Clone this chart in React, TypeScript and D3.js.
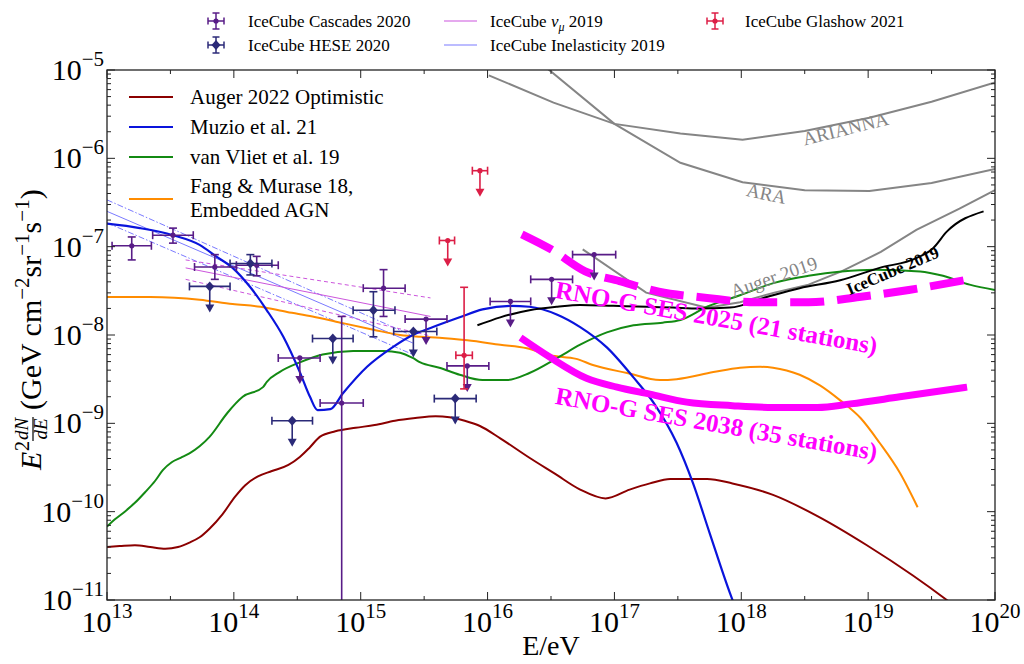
import React from 'react';
import * as d3 from 'd3';

type P = [number, number]; // [log10(E/eV), log10(E^2 dN/dE)]

const xTickExps = [13, 14, 15, 16, 17, 18, 19, 20];
const yTickExps = [-11, -10, -9, -8, -7, -6, -5];

const augerOptimistic: P[] = [[13.00,-10.40],[13.10,-10.39],[13.22,-10.38],[13.34,-10.40],[13.46,-10.42],[13.56,-10.40],[13.65,-10.35],[13.73,-10.29],[13.81,-10.19],[13.91,-10.03],[14.01,-9.83],[14.09,-9.70],[14.19,-9.60],[14.30,-9.54],[14.43,-9.47],[14.52,-9.38],[14.60,-9.27],[14.68,-9.15],[14.80,-9.09],[14.96,-9.05],[15.11,-9.02],[15.27,-8.97],[15.43,-8.94],[15.59,-8.92],[15.70,-8.93],[15.82,-8.97],[15.94,-9.03],[16.10,-9.17],[16.33,-9.39],[16.53,-9.57],[16.73,-9.75],[16.93,-9.85],[17.12,-9.75],[17.28,-9.68],[17.44,-9.63],[17.73,-9.63],[17.93,-9.68],[18.25,-9.81],[18.60,-10.05],[18.99,-10.38],[19.35,-10.72],[19.62,-11.00],[19.72,-11.11]];

const muzio21: P[] = [[13.00,-6.74],[13.26,-6.79],[13.52,-6.87],[13.73,-6.98],[13.86,-7.11],[13.99,-7.24],[14.13,-7.46],[14.26,-7.72],[14.39,-8.02],[14.52,-8.42],[14.60,-8.70],[14.66,-8.85],[14.76,-8.84],[14.86,-8.66],[15.05,-8.36],[15.25,-8.14],[15.41,-8.00],[15.57,-7.91],[15.78,-7.80],[15.96,-7.71],[16.18,-7.67],[16.33,-7.68],[16.55,-7.77],[16.73,-7.91],[16.94,-8.14],[17.15,-8.48],[17.32,-8.79],[17.49,-9.22],[17.62,-9.68],[17.75,-10.24],[17.91,-10.92],[17.96,-11.11]];

const vanVliet19: P[] = [[13.00,-10.17],[13.06,-10.09],[13.14,-10.00],[13.22,-9.90],[13.30,-9.78],[13.38,-9.65],[13.44,-9.53],[13.51,-9.44],[13.58,-9.39],[13.65,-9.34],[13.73,-9.26],[13.81,-9.15],[13.95,-8.88],[14.07,-8.70],[14.23,-8.59],[14.26,-8.53],[14.36,-8.42],[14.52,-8.31],[14.70,-8.22],[14.94,-8.18],[15.18,-8.18],[15.31,-8.20],[15.41,-8.26],[15.47,-8.31],[15.62,-8.37],[15.78,-8.45],[15.96,-8.51],[16.15,-8.51],[16.33,-8.43],[16.55,-8.26],[16.73,-8.11],[16.94,-7.97],[17.15,-7.89],[17.38,-7.86],[17.52,-7.83],[17.73,-7.68],[17.99,-7.55],[18.26,-7.41],[18.53,-7.33],[18.79,-7.28],[19.06,-7.26],[19.41,-7.28],[19.59,-7.33],[19.80,-7.43],[20.00,-7.49]];

const fangMurase18: P[] = [[13.00,-7.57],[13.34,-7.57],[13.73,-7.60],[13.99,-7.65],[14.21,-7.68],[14.42,-7.74],[14.62,-7.79],[14.84,-7.86],[15.10,-7.94],[15.31,-8.00],[15.47,-8.02],[15.62,-8.03],[15.84,-8.06],[16.10,-8.11],[16.31,-8.15],[16.49,-8.23],[16.70,-8.27],[16.83,-8.34],[17.10,-8.43],[17.36,-8.51],[17.49,-8.50],[17.78,-8.42],[17.99,-8.37],[18.15,-8.36],[18.25,-8.37],[18.46,-8.45],[18.62,-8.57],[18.78,-8.74],[18.94,-8.94],[19.09,-9.22],[19.25,-9.56],[19.39,-9.95]];

const iceCube2019: P[] = [[15.92,-7.89],[16.10,-7.80],[16.33,-7.72],[16.55,-7.68],[16.73,-7.66],[16.99,-7.67],[17.26,-7.68],[17.46,-7.69],[17.67,-7.70],[17.91,-7.69],[18.20,-7.57],[18.46,-7.47],[18.78,-7.38],[19.09,-7.24],[19.38,-7.13],[19.51,-7.02],[19.62,-6.83],[19.91,-6.60]];

const arianna: P[] = [[16.01,-5.06],[16.52,-5.37],[17.00,-5.61],[17.52,-5.72],[18.01,-5.79],[18.50,-5.69],[19.01,-5.54],[19.50,-5.36],[20.00,-5.14]];
const ara: P[] = [[16.41,-4.91],[17.00,-5.61],[17.52,-6.05],[18.01,-6.27],[18.50,-6.36],[19.01,-6.37],[19.50,-6.28],[20.00,-6.12]];
const auger2019: P[] = [[16.75,-7.03],[17.25,-7.52],[17.73,-7.69],[17.99,-7.63],[18.26,-7.52],[18.53,-7.43],[18.79,-7.28],[19.10,-7.06],[19.38,-6.81],[19.72,-6.57],[20.00,-6.36]];

const rnog2025: P[] = [[16.27,-6.86],[16.50,-7.03],[16.77,-7.28],[17.04,-7.39],[17.35,-7.51],[17.73,-7.58],[18.12,-7.63],[18.53,-7.63],[18.93,-7.57],[19.32,-7.49],[19.76,-7.38]];
const rnog2038: P[] = [[16.26,-8.03],[16.49,-8.25],[16.78,-8.49],[17.02,-8.59],[17.28,-8.67],[17.57,-8.76],[17.93,-8.80],[18.25,-8.82],[18.60,-8.82],[18.86,-8.78],[19.25,-8.70],[19.78,-8.59]];

const numuBest: P[] = [[13.62,-7.24],[15.55,-7.79]];
const numuUpper: P[] = [[13.62,-7.15],[15.55,-7.58]];
const numuLower: P[] = [[13.62,-7.37],[15.55,-8.01]];
const inelBest: P[] = [[13.00,-6.60],[15.41,-8.09]];
const inelUpper: P[] = [[13.00,-6.47],[15.41,-8.01]];
const inelLower: P[] = [[13.00,-6.73],[15.41,-8.22]];

// [logE, logElo, logEhi, logF, logFlo, logFhi] ; UL when no flux errors
type Pt = number[];
const cascades2020: Pt[] = [
  [13.195, 13.04, 13.35, -6.99, -7.15, -6.89],
  [13.52, 13.36, 13.68, -6.87, -6.96, -6.79],
  [13.85, 13.69, 14.02, -7.23, -7.37, -7.09],
  [14.18, 14.02, 14.35, -7.21, -7.33, -7.11],
  [14.52, 14.35, 14.68, -8.26],
  [14.85, 14.68, 15.02, -8.77, -12, -7.79],
  [15.18, 15.02, 15.35, -7.47, -7.79, -7.26],
  [15.515, 15.35, 15.68, -7.82],
  [15.84, 15.68, 16.01, -8.35],
  [16.18, 16.02, 16.34, -7.62],
  [16.505, 16.34, 16.67, -7.37],
  [16.84, 16.67, 17.01, -7.09],
];
const hese2020: Pt[] = [
  [13.81, 13.65, 13.97, -7.45],
  [14.13, 13.97, 14.30, -7.19, -7.32, -7.09],
  [14.46, 14.30, 14.62, -8.97],
  [14.78, 14.62, 14.94, -8.04],
  [15.10, 14.94, 15.27, -7.72, -8.02, -7.51],
  [15.415, 15.26, 15.60, -7.96],
  [15.745, 15.58, 15.91, -8.72],
];
const glashow2021: Pt[] = [
  [15.686, 15.62, 15.74, -6.93],
  [15.94, 15.88, 16.00, -6.14],
  [15.815, 15.75, 15.88, -8.23, -8.61, -7.46],
];

const FONT = "'Liberation Serif','Times New Roman',serif";
const L = 107, R = 995, T = 70, B = 600;
const C_CASC = '#581c87';
const C_HESE = '#2b2a78';
const C_GLA = '#dc1e46';
const C_NUMU = '#cc55dd';
const C_INEL = '#7a7aff';
const GRAY = '#858585';
const MAG = '#ff00ff';

const x = d3.scaleLog().domain([1e13, 1e20]).range([L, R]);
const y = d3.scaleLog().domain([1e-11, 1e-5]).range([B, T]);
const px = (d: P) => x(Math.pow(10, d[0]));
const py = (d: P) => y(Math.pow(10, d[1]));
const smooth = d3.line<P>().x(px).y(py).curve(d3.curveMonotoneX);
const straight = d3.line<P>().x(px).y(py);

function ErrPoint({ d, color, marker }: { d: Pt; color: string; marker: 'dot' | 'diamond' }) {
  const cx = x(Math.pow(10, d[0]));
  const cy = y(Math.pow(10, d[3]));
  const x0 = x(Math.pow(10, d[1]));
  const x1 = x(Math.pow(10, d[2]));
  const ul = d.length < 6;
  const cap = 4;
  const arrow = 26;
  return (
    <g stroke={color} fill={color} strokeWidth={1.6}>
      <line x1={x0} x2={x1} y1={cy} y2={cy} />
      <line x1={x0} x2={x0} y1={cy - cap} y2={cy + cap} />
      <line x1={x1} x2={x1} y1={cy - cap} y2={cy + cap} />
      {ul ? (
        <g>
          <line x1={cx} x2={cx} y1={cy} y2={cy + arrow - 4} />
          <path d={`M${cx - 4.5},${cy + arrow - 8}L${cx + 4.5},${cy + arrow - 8}L${cx},${cy + arrow}Z`} stroke="none" />
        </g>
      ) : (
        <g>
          <line x1={cx} x2={cx} y1={y(Math.pow(10, d[5]))} y2={y(Math.pow(10, d[4]))} />
          <line x1={cx - cap} x2={cx + cap} y1={y(Math.pow(10, d[5]))} y2={y(Math.pow(10, d[5]))} />
          <line x1={cx - cap} x2={cx + cap} y1={y(Math.pow(10, d[4]))} y2={y(Math.pow(10, d[4]))} />
        </g>
      )}
      {marker === 'dot' ? (
        <circle cx={cx} cy={cy} r={2.6} stroke="none" />
      ) : (
        <path d={`M${cx},${cy - 5}L${cx + 4.5},${cy}L${cx},${cy + 5}L${cx - 4.5},${cy}Z`} stroke="none" />
      )}
    </g>
  );
}

function LegendErr({ cx, cy, color, marker }: { cx: number; cy: number; color: string; marker: 'dot' | 'diamond' }) {
  return (
    <g stroke={color} fill={color} strokeWidth={1.5}>
      <line x1={cx - 8} x2={cx + 8} y1={cy} y2={cy} />
      <line x1={cx - 8} x2={cx - 8} y1={cy - 3.5} y2={cy + 3.5} />
      <line x1={cx + 8} x2={cx + 8} y1={cy - 3.5} y2={cy + 3.5} />
      <line x1={cx} x2={cx} y1={cy - 8} y2={cy + 8} />
      <line x1={cx - 3.5} x2={cx + 3.5} y1={cy - 8} y2={cy - 8} />
      <line x1={cx - 3.5} x2={cx + 3.5} y1={cy + 8} y2={cy + 8} />
      {marker === 'dot' ? (
        <circle cx={cx} cy={cy} r={2.6} stroke="none" />
      ) : (
        <path d={`M${cx},${cy - 5}L${cx + 4.5},${cy}L${cx},${cy + 5}L${cx - 4.5},${cy}Z`} stroke="none" />
      )}
    </g>
  );
}

export default function App() {
  const minorX = xTickExps.slice(0, -1).map((k) => k + 0.5);
  const minorY: number[] = [];
  yTickExps.slice(0, -1).forEach((k) => {
    for (let m = 2; m <= 9; m++) minorY.push(Math.log10(m) + k);
  });
  const supFs = 21;
  return (
    <svg width={1024} height={664} style={{ position: 'absolute', left: 0, top: 0, background: '#fff' }} fontFamily={FONT}>
      <defs>
        <clipPath id="plot">
          <rect x={L} y={T} width={R - L} height={B - T} />
        </clipPath>
      </defs>
      <rect x={0} y={0} width={1024} height={664} fill="#fff" />

      <g clipPath="url(#plot)" fill="none">
        {/* gray sensitivities */}
        <path d={straight(arianna) || ''} stroke={GRAY} strokeWidth={2} />
        <path d={straight(ara) || ''} stroke={GRAY} strokeWidth={2} />
        <path d={straight(auger2019) || ''} stroke={GRAY} strokeWidth={2} />
        {/* IceCube fits */}
        <path d={straight(inelBest) || ''} stroke={C_INEL} strokeWidth={1} />
        <path d={straight(inelUpper) || ''} stroke={C_INEL} strokeWidth={1} strokeDasharray="6 2 1.5 2" />
        <path d={straight(inelLower) || ''} stroke={C_INEL} strokeWidth={1} strokeDasharray="6 2 1.5 2" />
        <path d={straight(numuBest) || ''} stroke={C_NUMU} strokeWidth={1} />
        <path d={straight(numuUpper) || ''} stroke={C_NUMU} strokeWidth={1} strokeDasharray="4 3" />
        <path d={straight(numuLower) || ''} stroke={C_NUMU} strokeWidth={1} strokeDasharray="4 3" />
        {/* models */}
        <path d={smooth(fangMurase18) || ''} stroke="#ff8c00" strokeWidth={2} />
        <path d={smooth(vanVliet19) || ''} stroke="#138a13" strokeWidth={2} />
        <path d={smooth(augerOptimistic) || ''} stroke="#8b0000" strokeWidth={2} />
        <path d={smooth(muzio21) || ''} stroke="#0a14dc" strokeWidth={2.2} />
        <path d={smooth(iceCube2019) || ''} stroke="#000" strokeWidth={2} />
        {/* RNO-G */}
        <path d={smooth(rnog2025) || ''} stroke={MAG} strokeWidth={8} strokeDasharray="34 13" />
        <path d={smooth(rnog2038) || ''} stroke={MAG} strokeWidth={7} />
        {/* data */}
        {cascades2020.map((d, i) => (
          <ErrPoint key={'c' + i} d={d} color={C_CASC} marker="dot" />
        ))}
        {hese2020.map((d, i) => (
          <ErrPoint key={'h' + i} d={d} color={C_HESE} marker="diamond" />
        ))}
        {glashow2021.map((d, i) => (
          <ErrPoint key={'g' + i} d={d} color={C_GLA} marker="dot" />
        ))}
      </g>

      {/* curve labels */}
      <g fill={GRAY} fontSize={19}>
        <text transform="translate(847,135) rotate(-14)" textAnchor="middle">ARIANNA</text>
        <text transform="translate(765,200) rotate(12)" textAnchor="middle">ARA</text>
        <text transform="translate(776,283) rotate(-19)" textAnchor="middle">Auger 2019</text>
      </g>
      <text transform="translate(895,276) rotate(-23)" textAnchor="middle" fontSize={17} fontWeight="bold">IceCube 2019</text>
      <g fill={MAG} fontSize={25} fontWeight="bold">
        <text transform="translate(715,326) rotate(10)" textAnchor="middle">RNO-G SES 2025 (21 stations)</text>
        <text transform="translate(715,432) rotate(10)" textAnchor="middle">RNO-G SES 2038 (35 stations)</text>
      </g>

      {/* frame and ticks */}
      <rect x={L} y={T} width={R - L} height={B - T} fill="none" stroke="#222" strokeWidth={1.3} />
      <g stroke="#222" strokeWidth={1}>
        {xTickExps.map((k) => (
          <g key={'xt' + k}>
            <line x1={x(Math.pow(10, k))} x2={x(Math.pow(10, k))} y1={B} y2={B - 8} />
            <line x1={x(Math.pow(10, k))} x2={x(Math.pow(10, k))} y1={T} y2={T + 8} />
          </g>
        ))}
        {minorX.map((k) => (
          <g key={'xm' + k}>
            <line x1={x(Math.pow(10, k))} x2={x(Math.pow(10, k))} y1={B} y2={B - 4} />
            <line x1={x(Math.pow(10, k))} x2={x(Math.pow(10, k))} y1={T} y2={T + 4} />
          </g>
        ))}
        {yTickExps.map((k) => (
          <g key={'yt' + k}>
            <line x1={L} x2={L + 8} y1={y(Math.pow(10, k))} y2={y(Math.pow(10, k))} />
            <line x1={R} x2={R - 8} y1={y(Math.pow(10, k))} y2={y(Math.pow(10, k))} />
          </g>
        ))}
        {minorY.map((k) => (
          <g key={'ym' + k}>
            <line x1={L} x2={L + 4} y1={y(Math.pow(10, k))} y2={y(Math.pow(10, k))} />
            <line x1={R} x2={R - 4} y1={y(Math.pow(10, k))} y2={y(Math.pow(10, k))} />
          </g>
        ))}
      </g>
      <g fontSize={30} fill="#000">
        {xTickExps.map((k) => (
          <text key={'xl' + k} x={x(Math.pow(10, k))} y={632} textAnchor="middle">
            10<tspan dy={-14} fontSize={supFs}>{k}</tspan>
          </text>
        ))}
        {yTickExps.map((k) => (
          <text key={'yl' + k} x={104} y={y(Math.pow(10, k)) + 10} textAnchor="end">
            10<tspan dy={-14} fontSize={supFs}>{'\u2212' + Math.abs(k)}</tspan>
          </text>
        ))}
        <text x={(L + R) / 2} y={655} textAnchor="middle" fontSize={28}>E/eV</text>
        <g transform="translate(41,470) rotate(-90)">
          <text x={0} y={0} fontStyle="italic">E</text>
          <text x={19} y={-12} fontSize={20}>2</text>
          <text x={41} y={-13} fontSize={19} fontStyle="italic" textAnchor="middle">dN</text>
          <line x1={29} x2={53} y1={-8} y2={-8} stroke="#000" strokeWidth={1.2} />
          <text x={41} y={6} fontSize={19} fontStyle="italic" textAnchor="middle">dE</text>
          <text x={60} y={0}>
            (GeV cm<tspan dy={-12} fontSize={supFs}>{'\u22122'}</tspan>
            <tspan dy={12}>sr</tspan>
            <tspan dy={-12} fontSize={supFs}>{'\u22121'}</tspan>
            <tspan dy={12}>s</tspan>
            <tspan dy={-12} fontSize={supFs}>{'\u22121'}</tspan>
            <tspan dy={12}>)</tspan>
          </text>
        </g>
      </g>

      {/* left legend */}
      <g fontSize={21} fill="#000">
        <line x1={129} x2={173} y1={97} y2={97} stroke="#8b0000" strokeWidth={2} />
        <text x={190} y={104}>Auger 2022 Optimistic</text>
        <line x1={129} x2={173} y1={127} y2={127} stroke="#0a14dc" strokeWidth={2} />
        <text x={190} y={134}>Muzio et al. 21</text>
        <line x1={129} x2={173} y1={157} y2={157} stroke="#138a13" strokeWidth={2} />
        <text x={190} y={164}>van Vliet et al. 19</text>
        <line x1={129} x2={173} y1={199} y2={199} stroke="#ff8c00" strokeWidth={2} />
        <text x={190} y={193}>Fang &amp; Murase 18,</text>
        <text x={190} y={217}>Embedded AGN</text>
      </g>

      {/* top legend */}
      <g fontSize={17} fill="#000">
        <LegendErr cx={216} cy={21} color={C_CASC} marker="dot" />
        <text x={248} y={27}>IceCube Cascades 2020</text>
        <LegendErr cx={216} cy={45} color={C_HESE} marker="diamond" />
        <text x={248} y={51}>IceCube HESE 2020</text>
        <line x1={444} x2={477} y1={21} y2={21} stroke={C_NUMU} strokeWidth={1.2} />
        <text x={490} y={27}>
          IceCube <tspan fontStyle="italic">ν</tspan>
          <tspan fontStyle="italic" fontSize={12} dy={4}>μ</tspan>
          <tspan dy={-4}> 2019</tspan>
        </text>
        <line x1={444} x2={477} y1={45} y2={45} stroke={C_INEL} strokeWidth={1.2} />
        <text x={490} y={51}>IceCube Inelasticity 2019</text>
        <LegendErr cx={715} cy={21} color={C_GLA} marker="dot" />
        <text x={745} y={27}>IceCube Glashow 2021</text>
      </g>
    </svg>
  );
}
